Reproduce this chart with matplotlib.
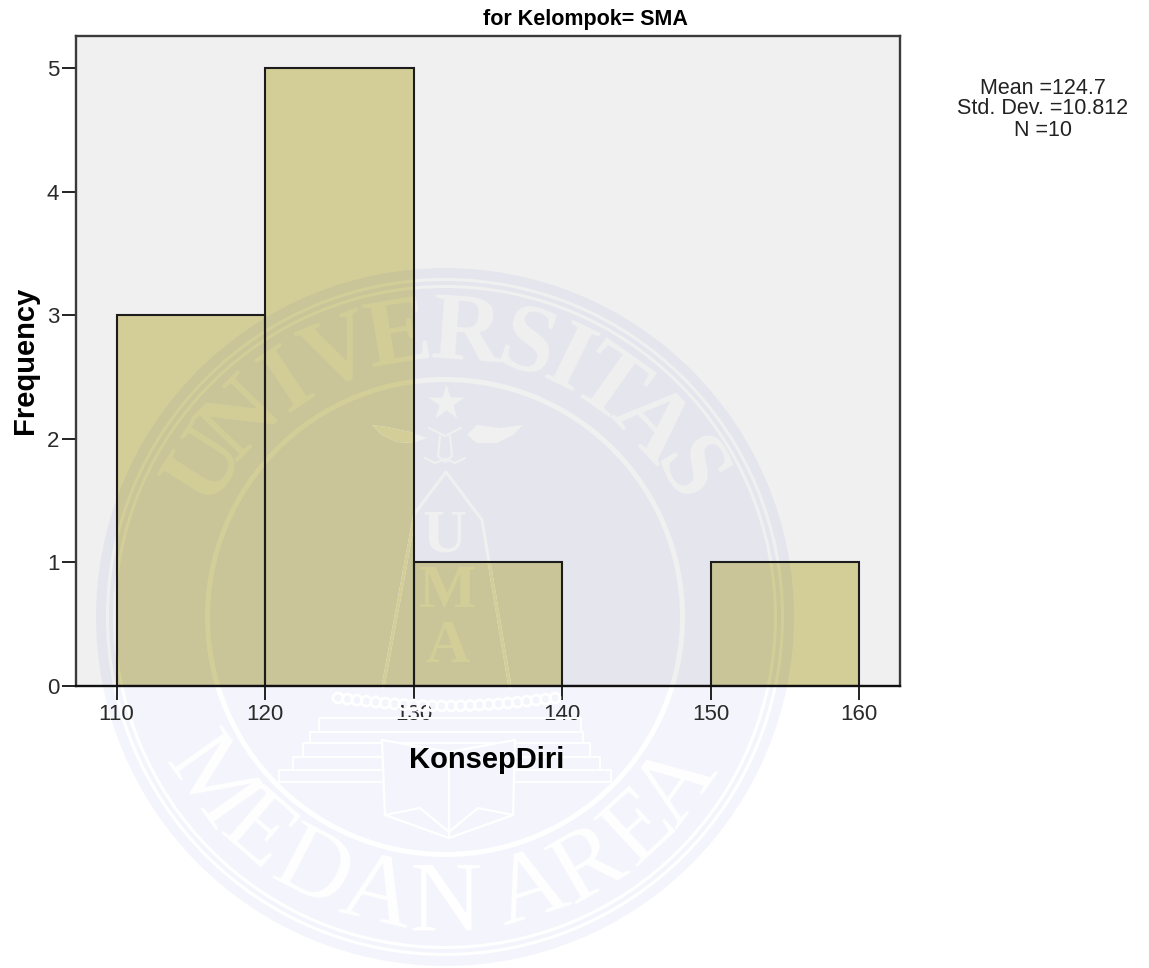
import numpy as np
import matplotlib
matplotlib.use("Agg")
import matplotlib.pyplot as plt
from matplotlib.lines import Line2D
from matplotlib.patches import Wedge, Polygon, Circle
from matplotlib.transforms import Affine2D, Bbox

# histogram data
bin_edges = [110, 120, 130, 140, 150, 160]
counts = [3, 5, 1, 0, 1]
x_ticks = [110, 120, 130, 140, 150, 160]
y_ticks = [0, 1, 2, 3, 4, 5]
title = "for Kelompok= SMA"
x_label = "KonsepDiri"
y_label = "Frequency"
stats_text = "Mean =124.7\nStd. Dev. =10.812\nN =10"

W, H = 1149, 968
BG = '#f0f0f0'
BAR = '#d3ce97'
plt.rcParams['font.family'] = ['Liberation Sans', 'DejaVu Sans']

fig = plt.figure(figsize=(W / 100, H / 100), dpi=100, facecolor='white')
ax = fig.add_axes([76 / W, 1 - 686 / H, (900 - 76) / W, (686 - 36) / H])
ax.set_facecolor(BG)
ax.set_xlim(107.27, 162.76)
ax.set_ylim(0, 5.263)

# fill and outline are separate so the watermark sits between them
ax.bar(bin_edges[:-1], counts, width=10, align='edge', color=BAR, linewidth=0, zorder=1)
ax.bar(bin_edges[:-1], counts, width=10, align='edge', fill=False, edgecolor='#1c1c1c', linewidth=1.5, zorder=2.2)

ax.set_xticks(x_ticks)
ax.set_yticks(y_ticks)
ax.tick_params(axis='both', labelsize=16, length=10, width=1.4, color='#222222', labelcolor='#2a2a2a')
ax.tick_params(axis='x', pad=3)
ax.tick_params(axis='y', pad=2)
for s in ax.spines.values():
    s.set_linewidth(1.7)
    s.set_color('#3a3a3a')
ax.spines['bottom'].set_color('#111111')

fig.text(585 / W, 1 - 19 / H, title, fontsize=15.5, fontweight='bold', ha='center', va='center')
fig.text(487 / W, 1 - 760 / H, x_label, fontsize=21, fontweight='bold', ha='center', va='center')
fig.text(25 / W, 1 - 360 / H, y_label, fontsize=21, fontweight='bold', rotation=90, ha='center', va='center')
fig.text(1043 / W, 1 - 109 / H, stats_text, fontsize=15.5, ha='center', va='center', linespacing=1.0, color='#222222')

# watermark, in image pixels (y down)
px = Affine2D().scale(1, -1).translate(0, H)
cx, cy = 445, 617
wm_tint = (0, 0, 200 / 255)
for r_out, r_in in [(349, 339), (336, 332), (329, 240), (235, 0)]:
    ax.add_artist(Wedge((cx, cy), r_out, 0, 360, width=r_out - r_in, fc=wm_tint, ec='none', alpha=0.045,
                        transform=px, zorder=1.5, clip_on=False))


def box(x0, y0, x1, y1):
    return Bbox([[x0, H - y1], [x1, H - y0]])


# colour of the "cut out" parts of the seal, per region, painted in this order
regions = [(BG, box(76, 36, 900, 686)),
           (BAR, box(116.5, 315, 265, 686)),
           (BAR, box(265, 68.5, 414, 686)),
           (BAR, box(414, 562, 562.5, 686)),
           (BAR, box(711, 562, 859, 686)),
           ('white', box(0, 686, W, H))]


def cut_line(xs, ys, lw=1.5):
    for col, clip in regions:
        ln = Line2D(xs, ys, color=col, lw=lw, transform=px, zorder=1.7, solid_joinstyle='round')
        ax.add_artist(ln)
        ln.set_clip_on(True)
        ln.set_clip_path(None)
        ln.set_clip_box(clip)


def cut_poly(pts):
    for col, clip in regions:
        pg = Polygon(pts, closed=True, fc=col, ec='none', transform=px, zorder=1.7)
        ax.add_artist(pg)
        pg.set_clip_on(True)
        pg.set_clip_path(None)
        pg.set_clip_box(clip)


def seal_letter(ch, ang, rad, size, col, weight='bold', flip=False, clip=None):
    x = cx + rad * np.cos(np.radians(ang))
    y = cy - rad * np.sin(np.radians(ang))
    rot = ang + 90 if flip else ang - 90
    t = ax.text(x, y, ch, fontsize=size, family='Liberation Serif', fontweight=weight, color=col, rotation=rot,
                rotation_mode='anchor', ha='center', va='center', transform=px, zorder=1.8)
    if clip is not None:
        t.set_clip_on(True)
        t.set_clip_box(clip)
    return t


top_word = [("U", 147.5, BAR), ("N", 136, BAR), ("I", 123.7, BAR), ("V", 112, BAR),
            ("R", 85.8, BG), ("S", 73, BG), ("I", 64, BG), ("T", 54.7, BG), ("A", 43, BG), ("S", 30.8, BG)]
for ch, ang, col in top_word:
    seal_letter(ch, ang, 281, 70, col)
# the E of UNIVERSITAS runs over the edge of the 120-130 bar
seal_letter("E", 99.5, 281, 70, BAR, clip=box(0, 0, 414, H))
seal_letter("E", 99.5, 281, 70, BG, clip=box(414, 0, W, H))

bottom_word = [("M", 215.2), ("E", 229), ("D", 242.4), ("A", 256.4), ("N", 270),
               ("A", 287.4), ("R", 300), ("E", 312.6), ("A", 324.1)]
for ch, ang in bottom_word:
    seal_letter(ch, ang, 288, 72, 'white', weight='normal', flip=True)

# shield with U M A
cut_line([383, 415, 446, 482, 510], [687, 513, 472, 520, 687], lw=2.2)
for ch, xx, yy, col in [("U", 445, 537, BG), ("M", 448, 592, BAR), ("A", 447, 647, BAR)]:
    ax.text(xx, yy, ch, fontsize=44, fontweight='bold', family='Liberation Serif', color=col,
            ha='center', va='center', transform=px, zorder=1.8)

# star, wings, bird
ax.add_artist(Line2D([446], [403], marker='*', ms=27, color=BG, mec='none', transform=px, zorder=1.7))
cut_poly([(372, 425), (387, 427), (410, 432), (427, 438), (413, 443), (397, 442), (382, 435)])
cut_poly([(523, 425), (500, 428), (477, 425), (467, 435), (477, 443), (497, 443), (513, 435)])
cut_line([429, 445, 461], [428, 436, 428], lw=1.5)
cut_line([440, 438, 445, 452, 450], [436, 456, 462, 456, 436], lw=1.5)
cut_line([425, 435, 445, 455, 465], [458, 463, 459, 463, 458], lw=1.5)

# beads, plinth and book below the axis
for bx, by in zip(np.linspace(338, 555, 24), 698 + 8 * np.sin(np.linspace(0, np.pi, 24))):
    ax.add_artist(Circle((bx, by), 5, fc='none', ec='white', lw=2, transform=px, zorder=1.7, clip_on=False))
for x0, x1, y0, y1 in [(319, 581, 718, 732), (310, 583, 732, 743), (303, 590, 743, 757),
                       (293, 600, 757, 770), (279, 611, 770, 782)]:
    ax.add_artist(Line2D([x0, x0, x1, x1, x0], [y1, y0, y0, y1, y1], color='white', lw=1.4, transform=px,
                         zorder=1.7, clip_on=False))
ax.add_artist(Polygon([(382, 740), (385, 815), (449, 838), (513, 815), (515, 740), (449, 752)], closed=True,
                      fc=(244 / 255, 244 / 255, 253 / 255), ec='white', lw=1.6, transform=px, zorder=1.72, clip_on=False))
ax.add_artist(Line2D([449, 449], [752, 838], color='white', lw=1.6, transform=px, zorder=1.73, clip_on=False))
ax.add_artist(Line2D([385, 420, 449, 478, 513], [815, 808, 832, 808, 815], color='white', lw=1.6, transform=px,
                     zorder=1.73, clip_on=False))

fig.savefig('out.png', dpi=100)
